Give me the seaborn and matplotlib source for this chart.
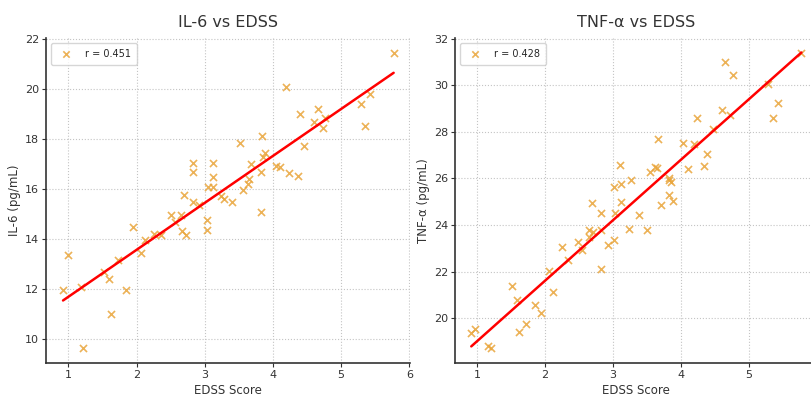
import numpy as np
import pandas as pd
import matplotlib
matplotlib.use("Agg")
import matplotlib.pyplot as plt
import seaborn as sns

# ---- data ----
il6_edss = [0.92, 0.99, 1.18, 1.22, 1.52, 1.60, 1.62, 1.72, 1.85, 1.95,
            2.07, 2.12, 2.25, 2.35, 2.50, 2.56, 2.65, 2.66, 2.72, 2.70,
            2.82, 2.83, 2.83, 2.92, 3.03, 3.03, 3.04, 3.12, 3.12, 3.12,
            3.24, 3.28, 3.40, 3.52, 3.56, 3.63, 3.65, 3.68, 3.83, 3.82,
            3.84, 3.85, 3.89, 4.05, 4.11, 4.23, 4.36, 4.19, 4.39, 4.66,
            4.60, 4.73, 4.77, 4.46, 5.29, 5.43, 5.35, 5.77]
il6_vals = [11.96, 13.38, 12.09, 9.64, 12.69, 12.40, 10.99, 13.18, 11.96, 14.48,
            13.45, 13.98, 14.22, 14.18, 14.97, 14.68, 14.95, 14.31, 14.18, 15.75,
            15.50, 17.05, 16.67, 15.35, 14.75, 14.35, 16.08, 16.08, 17.05, 16.50,
            15.72, 15.59, 15.50, 17.84, 15.98, 16.21, 16.41, 17.00, 15.08, 16.67,
            18.14, 17.30, 17.43, 16.91, 16.87, 16.63, 16.54, 20.09, 19.00, 19.22,
            18.69, 18.43, 18.84, 17.74, 19.40, 19.80, 18.53, 21.45]

tnf_edss = [0.91, 0.97, 1.16, 1.20, 1.51, 1.59, 1.61, 1.72, 1.85, 1.94,
            2.06, 2.11, 2.25, 2.33, 2.49, 2.54, 2.64, 2.65, 2.70, 2.69,
            2.82, 2.82, 2.82, 2.92, 3.02, 3.03, 3.12, 3.23, 3.39, 3.50,
            3.71, 3.83, 3.89, 3.02, 3.12, 3.11, 3.26, 3.55, 3.62, 3.65,
            3.67, 3.82, 3.85, 3.83, 4.04, 4.11, 4.20, 4.35, 4.38, 4.24,
            4.47, 4.61, 4.73, 4.66, 4.77, 5.28, 5.43, 5.36, 5.78]
tnf_vals = [19.36, 19.53, 18.82, 18.72, 21.38, 20.78, 19.41, 19.74, 20.55, 20.24,
            22.02, 21.14, 23.08, 22.49, 23.27, 22.91, 23.50, 23.78, 23.70, 24.93,
            24.51, 23.80, 22.13, 23.13, 23.37, 24.51, 25.00, 23.83, 24.44, 23.80,
            24.86, 25.29, 25.02, 25.64, 25.75, 26.60, 25.93, 26.28, 26.50, 26.43,
            27.68, 25.93, 25.86, 26.00, 27.52, 26.39, 27.47, 26.53, 27.03, 28.60,
            28.13, 28.96, 28.73, 30.98, 30.44, 30.05, 29.23, 28.60, 31.40]

titles = ["IL-6 vs EDSS", "TNF-\u03b1 vs EDSS"]
ylabels = ["IL-6 (pg/mL)", "TNF-\u03b1 (pg/mL)"]
xlabel = "EDSS Score"
legend_labels = ["r = 0.451", "r = 0.428"]
il6_xticks = [1, 2, 3, 4, 5, 6]
tnf_xticks = [1, 2, 3, 4, 5]
il6_yticks = [10, 12, 14, 16, 18, 20, 22]
tnf_yticks = [20, 22, 24, 26, 28, 30, 32]

# ---- style ----
sns.set_style("whitegrid", {"grid.linestyle": ":", "grid.color": "#c4c4c4"})
plt.rcParams['font.family'] = ['DejaVu Sans']

W, H = 811, 398
fig = plt.figure(figsize=(W / 100, H / 100), dpi=100)
# axes placed in pixel terms (right panel runs off the right edge as in the reference)
ax1 = fig.add_axes([46 / W, 1 - 363 / H, (410 - 46) / W, (363 - 38) / H])
ax2 = fig.add_axes([455 / W, 1 - 363 / H, (817 - 455) / W, (363 - 38) / H])

point_color = "#E9A53A"
panels = [(ax1, il6_edss, il6_vals, il6_xticks, il6_yticks),
          (ax2, tnf_edss, tnf_vals, tnf_xticks, tnf_yticks)]
for i, (ax, xs, ys, xt, yt) in enumerate(panels):
    df = pd.DataFrame({"x": xs, "y": ys})
    sns.scatterplot(data=df, x="x", y="y", ax=ax, marker="x", color=point_color,
                    s=26, linewidth=1.2, alpha=0.85, label=legend_labels[i], zorder=3)
    k, b = np.polyfit(df["x"], df["y"], 1)
    xl = np.array([df["x"].min(), df["x"].max()])
    ax.plot(xl, k * xl + b, color="red", lw=1.8, zorder=4)
    ax.set_title(titles[i], fontsize=11.5, color="#333333", pad=8)
    ax.set_xlabel(xlabel, fontsize=8.5, color="#333333", labelpad=3)
    ax.set_ylabel(ylabels[i], fontsize=8.5, color="#333333", labelpad=3)
    ax.tick_params(labelsize=8, colors="#333333", length=3, width=0.8,
                   left=True, bottom=True, pad=2)
    ax.set_xticks(xt)
    ax.set_yticks(yt)
    ax.set_xlim(0.67, 6.01)
    for s in ["top", "right"]:
        ax.spines[s].set_visible(False)
    for s in ["left", "bottom"]:
        ax.spines[s].set_color("#333333")
        ax.spines[s].set_linewidth(1.2)
    leg = ax.legend(loc="upper left", fontsize=7, frameon=True, handletextpad=0.9,
                    borderpad=0.6, markerscale=0.9)
    leg.get_frame().set_edgecolor("#cccccc")

ax1.set_ylim(9.05, 22.04)
ax2.set_ylim(18.08, 32.03)

fig.savefig("out.png", dpi=100)
